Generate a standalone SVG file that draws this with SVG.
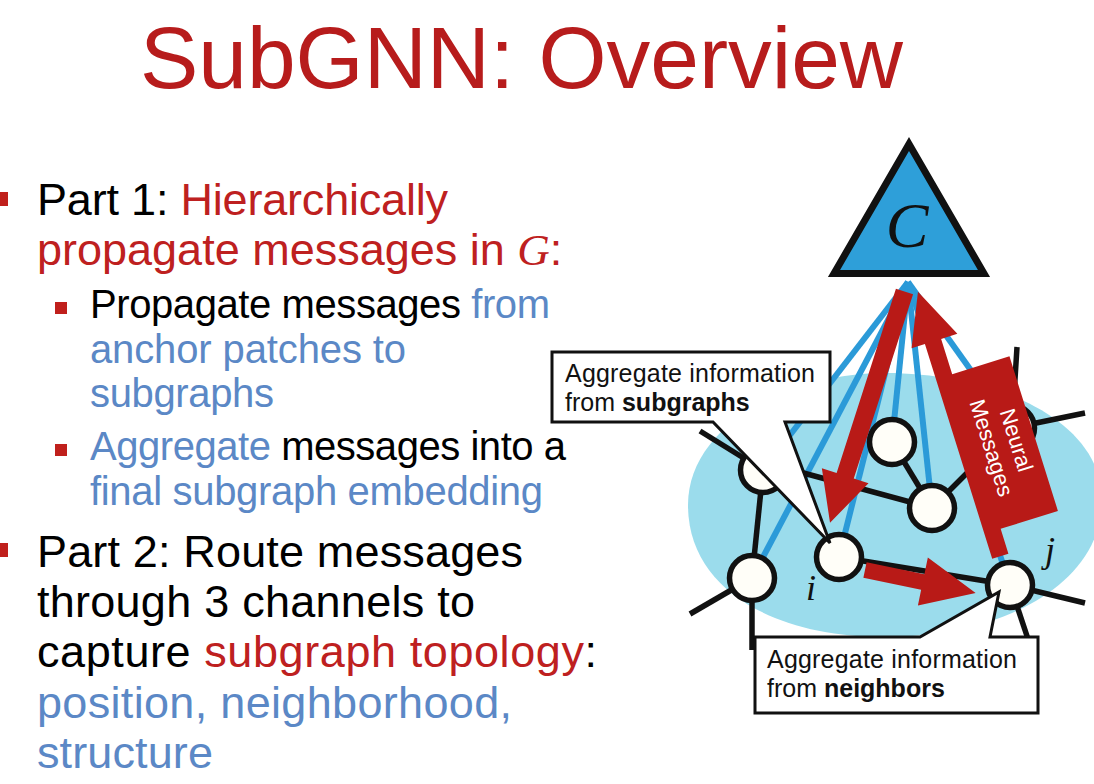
<svg xmlns="http://www.w3.org/2000/svg" width="1094" height="784" viewBox="0 0 1094 784">
<style>
.t{font-family:"Liberation Sans",Arial,sans-serif}
.red{fill:#BE2020}
.blu{fill:#5B88C6}
.blk{fill:#000}
.bul{fill:#C0201C}
.blue-ln{stroke:#2B9AD8;stroke-width:6;fill:none}
.edge{stroke:#111;stroke-width:5.5;fill:none;stroke-linecap:butt}
.node{fill:#FFFEF8;stroke:#111;stroke-width:5.5}
.arrow{fill:#B81A17}
.callout{fill:#fff;stroke:#111;stroke-width:3;stroke-linejoin:miter}
.ct{font-family:"Liberation Sans",Arial,sans-serif;font-size:25px;fill:#111}
.math{font-family:"Liberation Serif","Times New Roman",serif;font-style:italic}
</style>
<rect width="1094" height="784" fill="#fff"/>

<text class="t" x="140" y="88" font-size="88" fill="#B71C1C" textLength="763" lengthAdjust="spacingAndGlyphs">SubGNN: Overview</text>

<g id="bullets">
<rect class="bul" x="-6" y="192" width="14" height="14"/>
<rect class="bul" x="55" y="302" width="12" height="12"/>
<rect class="bul" x="55" y="444" width="12" height="12"/>
<rect class="bul" x="-6" y="543" width="14" height="14"/>
</g>

<g id="text-left" class="t">
<text x="37" y="215" font-size="45" textLength="411" lengthAdjust="spacing"><tspan class="blk">Part 1: </tspan><tspan class="red">Hierarchically</tspan></text>
<text x="37" y="265" font-size="45" class="red">propagate messages in <tspan class="math">G</tspan>:</text>
<text x="90" y="318" font-size="40" textLength="460" lengthAdjust="spacing"><tspan class="blk">Propagate messages </tspan><tspan class="blu">from</tspan></text>
<text x="90" y="363" font-size="40" class="blu" textLength="316" lengthAdjust="spacing">anchor patches to</text>
<text x="90" y="407" font-size="40" class="blu" textLength="184" lengthAdjust="spacing">subgraphs</text>
<text x="90" y="460" font-size="40" textLength="476" lengthAdjust="spacing"><tspan class="blu">Aggregate</tspan><tspan class="blk"> messages into a</tspan></text>
<text x="90" y="505" font-size="40" class="blu" textLength="453" lengthAdjust="spacing">final subgraph embedding</text>
<text x="37" y="567" font-size="45" class="blk" textLength="486" lengthAdjust="spacing">Part 2: Route messages</text>
<text x="37" y="617" font-size="45" class="blk" textLength="438" lengthAdjust="spacing">through 3 channels to</text>
<text x="37" y="667" font-size="45" textLength="560" lengthAdjust="spacing"><tspan class="blk">capture </tspan><tspan class="red">subgraph topology</tspan><tspan class="blk">:</tspan></text>
<text x="37" y="718" font-size="45" class="blu" textLength="475" lengthAdjust="spacing">position, neighborhood,</text>
<text x="37" y="768" font-size="45" class="blu" textLength="176" lengthAdjust="spacing">structure</text>
</g>

<path id="subgraph-region" d="M688,505 C688,425 790,373 885,373 C995,373 1102,420 1102,500 C1102,585 1000,637 885,637 C775,637 688,590 688,505 Z" fill="#9BDCEC"/>

<g id="connectors">
<line class="blue-ln" x1="908" y1="282" x2="763" y2="470"/>
<line class="blue-ln" x1="908" y1="282" x2="752" y2="578"/>
<line class="blue-ln" x1="908" y1="282" x2="839" y2="557"/>
<line class="blue-ln" x1="908" y1="282" x2="892" y2="442"/>
<line class="blue-ln" x1="908" y1="282" x2="932" y2="508"/>
<line class="blue-ln" x1="908" y1="282" x2="1010" y2="585"/>
<line class="blue-ln" x1="908" y1="282" x2="1012" y2="428"/>
<line class="edge" x1="700" y1="431" x2="763" y2="470"/>
<line class="edge" x1="763" y1="470" x2="752" y2="578"/>
<line class="edge" x1="763" y1="462" x2="932" y2="508"/>
<line class="edge" x1="892" y1="442" x2="932" y2="508"/>
<line class="edge" x1="932" y1="508" x2="1012" y2="428"/>
<line class="edge" x1="1017" y1="347" x2="1012" y2="428"/>
<line class="edge" x1="1012" y1="428" x2="1085" y2="413"/>
<line class="edge" x1="690" y1="614" x2="752" y2="578"/>
<line class="edge" x1="752" y1="578" x2="752" y2="650"/>
<line class="edge" x1="839" y1="557" x2="1010" y2="585"/>
<line class="edge" x1="1010" y1="585" x2="1085" y2="603"/>
<line class="edge" x1="1010" y1="585" x2="1030" y2="645"/>
</g>

<g id="node-C">
<polygon points="909,144 984,273.5 834,273.5" fill="#2E9FD9" stroke="#111" stroke-width="7" stroke-linejoin="miter"/>
<text class="math" x="907" y="247" font-size="64" text-anchor="middle" fill="#111">C</text>
</g>

<g id="nodes">
<circle id="node-a" class="node" cx="763" cy="470" r="22.5"/>
<circle id="node-b" class="node" cx="892" cy="442" r="22.5"/>
<circle id="node-c" class="node" cx="932" cy="508" r="22.5"/>
<circle id="node-d" class="node" cx="1012" cy="428" r="22.5"/>
<circle id="node-e" class="node" cx="752" cy="578" r="22.5"/>
<circle id="node-i" class="node" cx="839" cy="557" r="22.5"/>
<circle id="node-j" class="node" cx="1010" cy="585" r="22.5"/>
</g>

<g id="arrows">
<polygon class="arrow" transform="translate(904.5,291.5) rotate(17.85)" points="-9,0 9,0 9,193.5 24.5,193.5 0,243 -24.5,193.5 -9,193.5"/>
<g id="neural-messages" transform="translate(917,292) rotate(-17.4)">
<polygon class="arrow" points="1,0 26,52 9,52 9,89 69,89 69,251 9,251 9,277 -8,277 -8,52 -22,52"/>
<text class="t" transform="translate(43,171) rotate(90)" font-size="22" fill="#fff" text-anchor="middle">Neural</text>
<text class="t" transform="translate(17,171) rotate(90)" font-size="22" fill="#fff" text-anchor="middle">Messages</text>
</g>
<polygon class="arrow" transform="translate(865,570) rotate(11.7)" points="0,-8 59,-8 59,-25 113,0 59,24 59,8 0,8"/>
</g>

<g id="labels">
<text class="math" x="806" y="600" font-size="36" fill="#111">i</text>
<text class="math" x="1045" y="562" font-size="36" fill="#111">j</text>
</g>

<g id="callout-subgraphs">
<path class="callout" d="M552,352 H830 V422 H785 L830,543 L713,422 H552 Z"/>
<text class="ct" x="565" y="382" textLength="250" lengthAdjust="spacing">Aggregate information</text>
<text class="ct" x="565" y="411">from <tspan font-weight="bold">subgraphs</tspan></text>
</g>

<g id="callout-neighbors">
<path class="callout" d="M755,637 H920 L999,592 L990,637 H1038 V713 H755 Z"/>
<text class="ct" x="767" y="668" textLength="250" lengthAdjust="spacing">Aggregate information</text>
<text class="ct" x="767" y="697">from <tspan font-weight="bold">neighbors</tspan></text>
</g>
</svg>
